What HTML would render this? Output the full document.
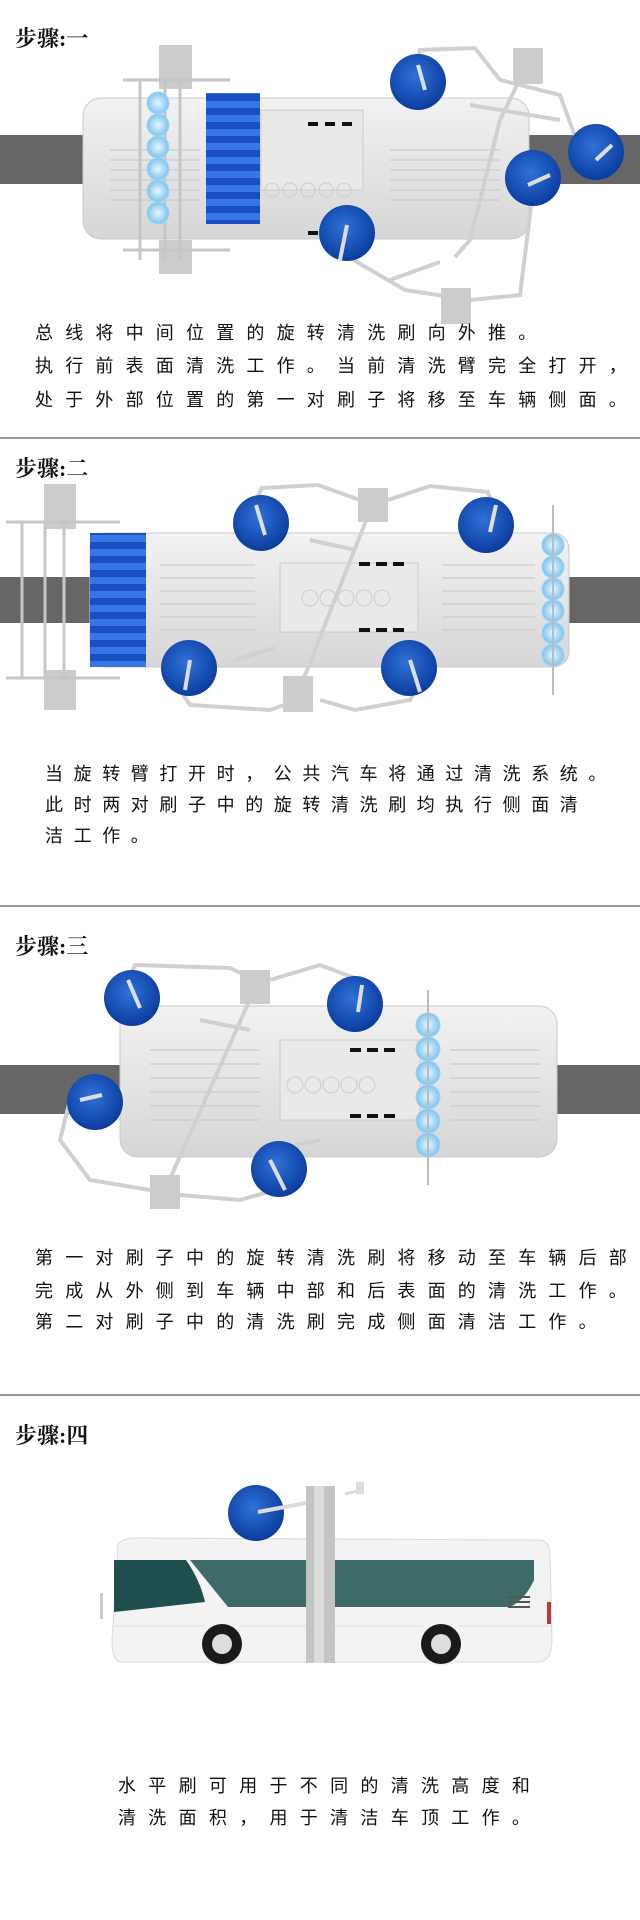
<!DOCTYPE html>
<html><head><meta charset="utf-8"><style>
html,body{margin:0;padding:0;background:#fff;}
body{width:640px;height:1920px;position:relative;overflow:hidden;}
.t{position:absolute;left:15px;font-family:"Liberation Serif","Noto Serif CJK SC",serif;font-size:22px;color:#111;font-weight:bold;}
.p{position:absolute;font-family:"Liberation Sans","Noto Sans CJK SC",sans-serif;font-size:18px;color:#111;white-space:nowrap;line-height:22px;}
.hr{position:absolute;left:0;width:640px;height:2px;background:#999;}
</style></head><body>
<svg width="640" height="1920" style="position:absolute;left:0;top:0">
<defs>
<radialGradient id="bb" cx="45%" cy="40%" r="60%"><stop offset="0" stop-color="#2f72d8"/><stop offset="1" stop-color="#0b3c9e"/></radialGradient>
<pattern id="stripe" width="10" height="14" patternUnits="userSpaceOnUse"><rect width="10" height="14" fill="#1a4fc2"/><rect y="3" width="10" height="7" fill="#3f7ff0" opacity=".8"/></pattern>
<linearGradient id="body" x1="0" y1="0" x2="0" y2="1"><stop offset="0" stop-color="#f2f2f2"/><stop offset=".5" stop-color="#e4e4e4"/><stop offset="1" stop-color="#d6d6d6"/></linearGradient>
<radialGradient id="lb" cx="50%" cy="50%" r="50%"><stop offset="0" stop-color="#e8f6ff"/><stop offset="1" stop-color="#7cc4ee"/></radialGradient>
</defs>

<!-- ===== Section 1 ===== -->
<rect x="0" y="135" width="640" height="49" fill="#666"/>
<rect x="83" y="98" width="446" height="141" rx="18" fill="url(#body)" stroke="#c8c8c8"/>
<rect x="261" y="110" width="102" height="80" fill="#e9e9e9" stroke="#ccc"/>
<g stroke="#ccc" stroke-width="1.2">
<line x1="110" y1="150" x2="200" y2="150"/><line x1="110" y1="160" x2="200" y2="160"/><line x1="110" y1="170" x2="200" y2="170"/><line x1="110" y1="180" x2="200" y2="180"/><line x1="110" y1="190" x2="200" y2="190"/><line x1="110" y1="200" x2="200" y2="200"/>
<line x1="390" y1="150" x2="500" y2="150"/><line x1="390" y1="160" x2="500" y2="160"/><line x1="390" y1="170" x2="500" y2="170"/><line x1="390" y1="180" x2="500" y2="180"/><line x1="390" y1="190" x2="500" y2="190"/><line x1="390" y1="200" x2="500" y2="200"/>
</g>
<g fill="none" stroke="#ccc"><circle cx="272" cy="190" r="7"/><circle cx="290" cy="190" r="7"/><circle cx="308" cy="190" r="7"/><circle cx="326" cy="190" r="7"/><circle cx="344" cy="190" r="7"/></g>
<g fill="#111"><rect x="308" y="122" width="10" height="4"/><rect x="325" y="122" width="10" height="4"/><rect x="342" y="122" width="10" height="4"/><rect x="308" y="231" width="10" height="4"/><rect x="325" y="231" width="10" height="4"/><rect x="342" y="231" width="10" height="4"/></g>
<rect x="159" y="45" width="33" height="44" fill="#ccc"/><rect x="159" y="240" width="33" height="34" fill="#ccc"/>
<g stroke="#c6c6c6" stroke-width="3" fill="none"><line x1="123" y1="80" x2="230" y2="80"/><line x1="123" y1="250" x2="230" y2="250"/><line x1="140" y1="80" x2="140" y2="260"/><line x1="180" y1="80" x2="180" y2="260"/><line x1="165" y1="80" x2="165" y2="260"/></g>
<g fill="url(#lb)" stroke="#9fd3f0"><circle cx="158" cy="103" r="11"/><circle cx="158" cy="125" r="11"/><circle cx="158" cy="147" r="11"/><circle cx="158" cy="169" r="11"/><circle cx="158" cy="191" r="11"/><circle cx="158" cy="213" r="11"/></g>
<rect x="206" y="93" width="54" height="131" fill="url(#stripe)"/>
<g stroke="#d0d0d0" stroke-width="4" fill="none">
<polyline points="418,60 420,50 475,48 500,80 560,95 580,150 598,150"/>
<polyline points="528,62 500,120 470,240 455,257"/>
<polyline points="533,190 520,295 470,300 405,290 345,255"/>
<line x1="470" y1="105" x2="560" y2="120"/><line x1="390" y1="280" x2="440" y2="262"/>
</g>
<rect x="513" y="48" width="30" height="36" fill="#ccc"/><rect x="441" y="288" width="30" height="36" fill="#ccc"/>
<g fill="url(#bb)"><circle cx="418" cy="82" r="28"/><circle cx="596" cy="152" r="28"/><circle cx="533" cy="178" r="28"/><circle cx="347" cy="233" r="28"/></g>
<g stroke="#ddd" stroke-width="4"><line x1="418" y1="65" x2="425" y2="90"/><line x1="596" y1="160" x2="612" y2="145"/><line x1="528" y1="185" x2="550" y2="175"/><line x1="340" y1="260" x2="347" y2="225"/></g>

<!-- ===== Section 2 ===== -->
<rect x="0" y="577" width="640" height="46" fill="#666"/>
<rect x="90" y="533" width="479" height="134" rx="16" fill="url(#body)" stroke="#c8c8c8"/>
<rect x="280" y="563" width="138" height="69" fill="#e9e9e9" stroke="#ccc"/>
<g stroke="#ccc" stroke-width="1.2">
<line x1="160" y1="565" x2="255" y2="565"/><line x1="160" y1="578" x2="255" y2="578"/><line x1="160" y1="591" x2="255" y2="591"/><line x1="160" y1="604" x2="255" y2="604"/><line x1="160" y1="617" x2="255" y2="617"/><line x1="160" y1="630" x2="255" y2="630"/>
<line x1="442" y1="565" x2="535" y2="565"/><line x1="442" y1="578" x2="535" y2="578"/><line x1="442" y1="591" x2="535" y2="591"/><line x1="442" y1="604" x2="535" y2="604"/><line x1="442" y1="617" x2="535" y2="617"/><line x1="442" y1="630" x2="535" y2="630"/>
</g>
<g fill="none" stroke="#ccc"><circle cx="310" cy="598" r="8"/><circle cx="328" cy="598" r="8"/><circle cx="346" cy="598" r="8"/><circle cx="364" cy="598" r="8"/><circle cx="382" cy="598" r="8"/></g>
<g fill="#111"><rect x="359" y="562" width="11" height="4"/><rect x="376" y="562" width="11" height="4"/><rect x="393" y="562" width="11" height="4"/><rect x="359" y="628" width="11" height="4"/><rect x="376" y="628" width="11" height="4"/><rect x="393" y="628" width="11" height="4"/></g>
<rect x="44" y="484" width="32" height="45" fill="#ccc"/><rect x="44" y="670" width="32" height="40" fill="#ccc"/>
<g stroke="#c6c6c6" stroke-width="3" fill="none"><line x1="6" y1="522" x2="120" y2="522"/><line x1="6" y1="678" x2="120" y2="678"/><line x1="22" y1="522" x2="22" y2="678"/><line x1="45" y1="522" x2="45" y2="678"/><line x1="64" y1="522" x2="64" y2="678"/></g>
<rect x="90" y="533" width="56" height="134" fill="url(#stripe)"/>
<g stroke="#d0d0d0" stroke-width="4" fill="none">
<line x1="373" y1="503" x2="298" y2="693"/>
<polyline points="256,500 262,488 318,485 360,500"/><polyline points="388,500 430,486 488,492 492,505"/>
<polyline points="180,690 190,705 270,710 298,700"/><polyline points="320,700 355,710 410,700 415,690"/>
<line x1="310" y1="540" x2="355" y2="550"/><line x1="235" y1="660" x2="275" y2="648"/>
</g>
<rect x="358" y="488" width="30" height="34" fill="#ccc"/><rect x="283" y="676" width="30" height="36" fill="#ccc"/>
<g fill="url(#lb)" stroke="#9fd3f0"><circle cx="553" cy="545" r="11"/><circle cx="553" cy="567" r="11"/><circle cx="553" cy="589" r="11"/><circle cx="553" cy="611" r="11"/><circle cx="553" cy="633" r="11"/><circle cx="553" cy="655" r="11"/></g>
<line x1="553" y1="505" x2="553" y2="695" stroke="#bbb" stroke-width="2"/>
<g fill="url(#bb)"><circle cx="261" cy="523" r="28"/><circle cx="486" cy="525" r="28"/><circle cx="189" cy="668" r="28"/><circle cx="409" cy="668" r="28"/></g>
<g stroke="#ddd" stroke-width="4"><line x1="256" y1="505" x2="265" y2="535"/><line x1="496" y1="505" x2="490" y2="532"/><line x1="190" y1="660" x2="185" y2="690"/><line x1="410" y1="660" x2="420" y2="692"/></g>

<!-- ===== Section 3 ===== -->
<rect x="0" y="1065" width="640" height="49" fill="#666"/>
<rect x="120" y="1006" width="437" height="151" rx="18" fill="url(#body)" stroke="#c8c8c8"/>
<rect x="280" y="1040" width="140" height="80" fill="#e9e9e9" stroke="#ccc"/>
<g stroke="#ccc" stroke-width="1.2">
<line x1="150" y1="1050" x2="260" y2="1050"/><line x1="150" y1="1064" x2="260" y2="1064"/><line x1="150" y1="1078" x2="260" y2="1078"/><line x1="150" y1="1092" x2="260" y2="1092"/><line x1="150" y1="1106" x2="260" y2="1106"/><line x1="150" y1="1120" x2="260" y2="1120"/>
<line x1="450" y1="1050" x2="540" y2="1050"/><line x1="450" y1="1064" x2="540" y2="1064"/><line x1="450" y1="1078" x2="540" y2="1078"/><line x1="450" y1="1092" x2="540" y2="1092"/><line x1="450" y1="1106" x2="540" y2="1106"/><line x1="450" y1="1120" x2="540" y2="1120"/>
</g>
<g fill="none" stroke="#ccc"><circle cx="295" cy="1085" r="8"/><circle cx="313" cy="1085" r="8"/><circle cx="331" cy="1085" r="8"/><circle cx="349" cy="1085" r="8"/><circle cx="367" cy="1085" r="8"/></g>
<g fill="#111"><rect x="350" y="1048" width="11" height="4"/><rect x="367" y="1048" width="11" height="4"/><rect x="384" y="1048" width="11" height="4"/><rect x="350" y="1114" width="11" height="4"/><rect x="367" y="1114" width="11" height="4"/><rect x="384" y="1114" width="11" height="4"/></g>
<g stroke="#d0d0d0" stroke-width="4" fill="none">
<line x1="255" y1="988" x2="165" y2="1190"/>
<polyline points="128,980 135,965 230,968 255,980"/><polyline points="270,980 320,965 360,980"/>
<polyline points="70,1100 60,1140 90,1180 150,1190"/><polyline points="180,1195 240,1200 275,1190"/>
<line x1="200" y1="1020" x2="250" y2="1030"/><line x1="275" y1="1150" x2="320" y2="1140"/>
</g>
<rect x="240" y="970" width="30" height="34" fill="#ccc"/><rect x="150" y="1175" width="30" height="34" fill="#ccc"/>
<g fill="url(#lb)" stroke="#9fd3f0"><circle cx="428" cy="1025" r="12"/><circle cx="428" cy="1049" r="12"/><circle cx="428" cy="1073" r="12"/><circle cx="428" cy="1097" r="12"/><circle cx="428" cy="1121" r="12"/><circle cx="428" cy="1145" r="12"/></g>
<line x1="428" y1="990" x2="428" y2="1185" stroke="#bbb" stroke-width="2"/>
<g fill="url(#bb)"><circle cx="132" cy="998" r="28"/><circle cx="355" cy="1004" r="28"/><circle cx="95" cy="1102" r="28"/><circle cx="279" cy="1169" r="28"/></g>
<g stroke="#ddd" stroke-width="4"><line x1="128" y1="980" x2="140" y2="1008"/><line x1="362" y1="985" x2="358" y2="1012"/><line x1="80" y1="1100" x2="102" y2="1095"/><line x1="270" y1="1160" x2="285" y2="1190"/></g>

<!-- ===== Section 4 ===== -->
<path d="M118,1545 Q120,1538 140,1538 L540,1540 Q550,1541 550,1555 L552,1640 Q552,1660 540,1662 L120,1662 Q112,1660 112,1640 Z" fill="#f3f3f3" stroke="#d8d8d8"/>
<path d="M114,1560 L186,1560 Q200,1580 205,1602 L114,1612 Z" fill="#1f4f4f"/>
<path d="M190,1560 L534,1560 L534,1580 Q525,1600 510,1607 L228,1607 Z" fill="#3e6a6a"/>
<rect x="100" y="1593" width="3" height="26" fill="#ccc"/>
<line x1="115" y1="1626" x2="548" y2="1626" stroke="#ddd"/>
<g fill="#555"><rect x="508" y="1596" width="22" height="2"/><rect x="508" y="1601" width="22" height="2"/><rect x="508" y="1606" width="22" height="2"/></g>
<rect x="547" y="1602" width="4" height="22" fill="#c33"/>
<circle cx="222" cy="1642" r="24" fill="#f3f3f3"/><circle cx="441" cy="1642" r="24" fill="#f3f3f3"/>
<circle cx="222" cy="1644" r="20" fill="#1a1a1a"/><circle cx="222" cy="1644" r="10" fill="#ddd"/>
<circle cx="441" cy="1644" r="20" fill="#1a1a1a"/><circle cx="441" cy="1644" r="10" fill="#ddd"/>
<rect x="306" y="1486" width="29" height="177" fill="#c4c4c4"/><rect x="314" y="1486" width="10" height="177" fill="#dcdcdc"/>
<circle cx="256" cy="1513" r="28" fill="url(#bb)"/>
<line x1="258" y1="1512" x2="306" y2="1503" stroke="#ddd" stroke-width="4"/>
<line x1="345" y1="1494" x2="362" y2="1490" stroke="#ddd" stroke-width="3"/><rect x="356" y="1482" width="8" height="12" fill="#ddd"/>
</svg>

<div class="t" style="top:22px">步骤:一</div>
<div class="p" style="left:35px;top:322px;letter-spacing:12.2px">总线将中间位置的旋转清洗刷向外推。</div>
<div class="p" style="left:35px;top:355px;letter-spacing:12.2px">执行前表面清洗工作。当前清洗臂完全打开，</div>
<div class="p" style="left:35px;top:389px;letter-spacing:12.2px">处于外部位置的第一对刷子将移至车辆侧面。</div>
<div class="hr" style="top:437px"></div>

<div class="t" style="top:452px">步骤:二</div>
<div class="p" style="left:45px;top:763px;letter-spacing:10.6px">当旋转臂打开时，公共汽车将通过清洗系统。</div>
<div class="p" style="left:45px;top:794px;letter-spacing:10.6px">此时两对刷子中的旋转清洗刷均执行侧面清</div>
<div class="p" style="left:45px;top:825px;letter-spacing:10.6px">洁工作。</div>
<div class="hr" style="top:905px"></div>

<div class="t" style="top:930px">步骤:三</div>
<div class="p" style="left:35px;top:1247px;letter-spacing:12.2px">第一对刷子中的旋转清洗刷将移动至车辆后部</div>
<div class="p" style="left:35px;top:1280px;letter-spacing:12.2px">完成从外侧到车辆中部和后表面的清洗工作。</div>
<div class="p" style="left:35px;top:1311px;letter-spacing:12.2px">第二对刷子中的清洗刷完成侧面清洁工作。</div>
<div class="hr" style="top:1394px"></div>

<div class="t" style="top:1419px">步骤:四</div>
<div class="p" style="left:118px;top:1775px;letter-spacing:12.3px">水平刷可用于不同的清洗高度和</div>
<div class="p" style="left:118px;top:1807px;letter-spacing:12.3px">清洗面积，用于清洁车顶工作。</div>
</body></html>
